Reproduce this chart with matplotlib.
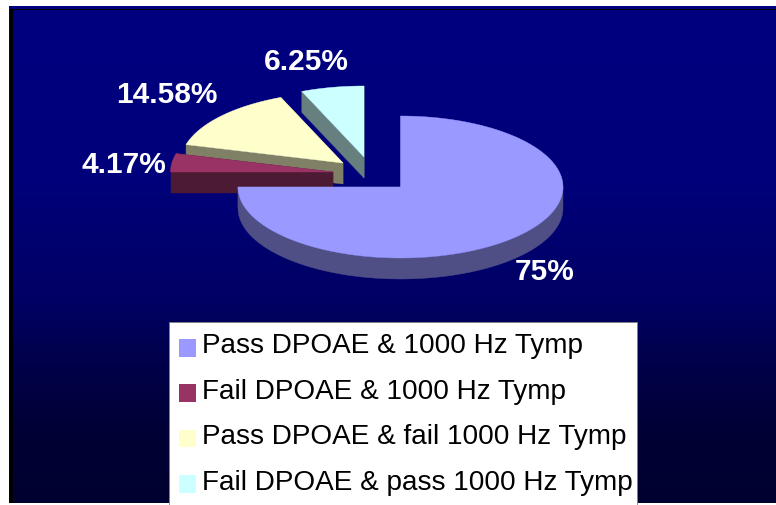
import numpy as np
import matplotlib
matplotlib.use("Agg")
import matplotlib.pyplot as plt
from matplotlib.patches import Polygon, Rectangle

categories = ["Pass DPOAE & 1000 Hz Tymp", "Fail DPOAE & 1000 Hz Tymp",
              "Pass DPOAE & fail 1000 Hz Tymp", "Fail DPOAE & pass 1000 Hz Tymp"]
values = [75, 4.17, 14.58, 6.25]
value_labels = ["75%", "4.17%", "14.58%", "6.25%"]

top_colors = ["#9999FF", "#993366", "#FFFFCC", "#CCFFFF"]
side_colors = ["#4F4F86", "#4D1A33", "#808066", "#668080"]
centers = [(400.5, 187), (333, 172), (343, 163), (364, 157)]
label_pos = [(545, 270), (124, 163), (167, 93), (306, 60)]
draw_order = [3, 2, 1, 0]
RX, RY, DEPTH = 162.5, 71, 21

plt.rcParams["font.family"] = ["Liberation Sans", "DejaVu Sans"]
fig = plt.figure(figsize=(7.76, 5.05), dpi=100, facecolor="white")
ax = fig.add_axes([0, 0, 1, 1])
ax.axis("off")

# background gradient
stops_y = [6, 180, 300, 370, 440, 503]
stops_v = [128, 122, 100, 72, 52, 48]
ys = np.arange(6, 503)
blue = np.interp(ys, stops_y, stops_v) / 255
grad = np.zeros((len(ys), 1, 3))
grad[:, 0, 2] = blue
ax.imshow(grad, extent=(9, 776, 503, 6), aspect="auto", zorder=0, interpolation="bilinear")
ax.set_xlim(0, 776)
ax.set_ylim(505, 0)
ax.add_patch(Rectangle((10, 9), 3, 494, fc="black", lw=0, zorder=1))
ax.add_patch(Rectangle((10, 9), 766, 1.2, fc="black", lw=0, zorder=1))

# wedges
sweeps = np.array(values) / sum(values) * 360
starts = np.concatenate([[0], np.cumsum(sweeps)[:-1]])


def rim(c, t):
    t = np.radians(t)
    return c[0] + RX * np.sin(t), c[1] - RY * np.cos(t)


def fill(xs, ys, color, z):
    ax.add_patch(Polygon(np.column_stack([xs, ys]), closed=True, fc=color, ec=color, lw=0.3, zorder=z))


for k, i in enumerate(draw_order):
    c = centers[i]
    a0, a1 = starts[i], starts[i] + sweeps[i]
    z = 2 + k
    for a in (a0, a1):
        x, y = rim(c, a)
        fill([c[0], x, x, c[0]], [c[1], y, y + DEPTH, c[1] + DEPTH], side_colors[i], z)
    lo, hi = max(a0, 90), min(a1, 270)
    if hi > lo:
        t = np.linspace(lo, hi, 200)
        x, y = rim(c, t)
        fill(np.r_[x, x[::-1]], np.r_[y, y[::-1] + DEPTH], side_colors[i], z)
    t = np.linspace(a0, a1, 300)
    x, y = rim(c, t)
    fill(np.r_[c[0], x], np.r_[c[1], y], top_colors[i], z)

for lab, (x, y) in zip(value_labels, label_pos):
    ax.text(x, y + 2, lab, color="white", fontsize=21.5, fontweight="bold",
            ha="center", va="center", zorder=10)

# legend
ax.add_patch(Rectangle((168.5, 322), 468.5, 184, fc="white", ec="#808080", lw=0.6, zorder=11))
patch_top = [339, 384, 429.5, 475]
baselines = [352.7, 399, 444.3, 490]
for name, col, p, b in zip(categories, top_colors, patch_top, baselines):
    ax.add_patch(Rectangle((179, p), 17, 17.7, fc=col, lw=0, zorder=12))
    ax.text(202, b, name, color="black", fontsize=20.1, ha="left", va="baseline", zorder=12)

fig.savefig("out.png", dpi=100, facecolor="white")
